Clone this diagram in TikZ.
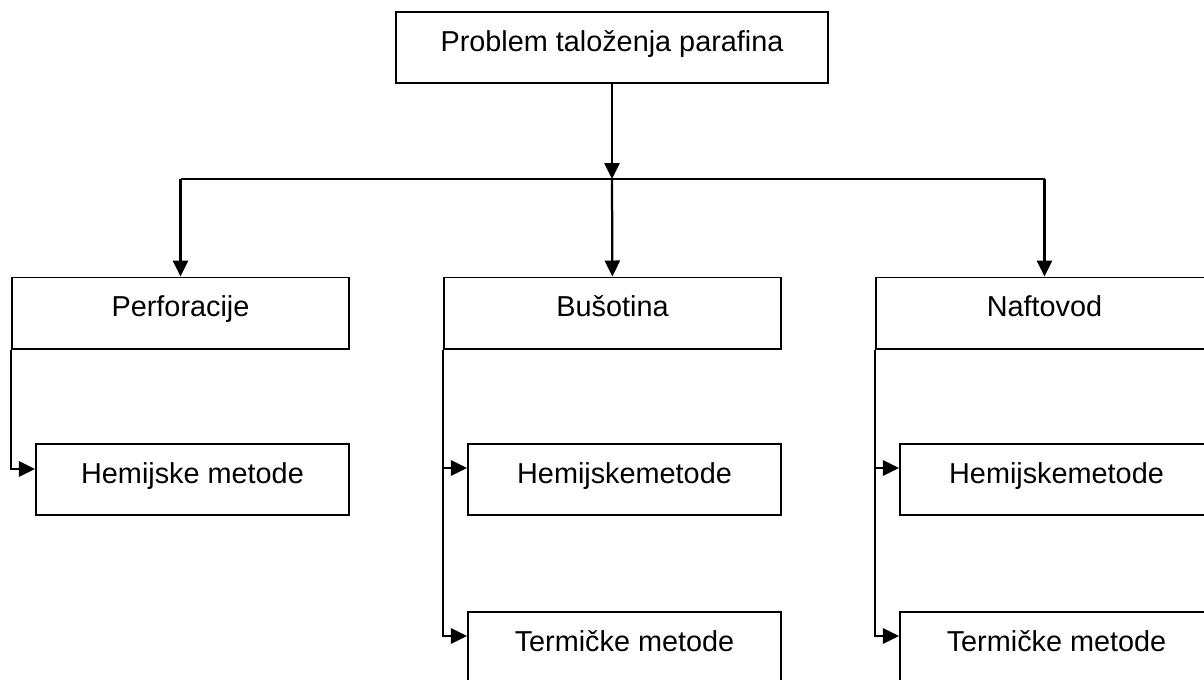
\documentclass[tikz,border=0pt]{standalone}
\usepackage{fontspec}
\setmainfont{Liberation Sans}
\usetikzlibrary{positioning, arrows.meta}
\tikzset{box/.style={draw,line width=1.4pt,inner sep=0pt,text height=0.975cm,text depth=0.8cm,
                     font=\fontsize{20.5}{24}\selectfont},
         topbox/.style={box,minimum width=10.8cm},
         placebox/.style={box,minimum width=8.425cm},
         methodbox/.style={box,minimum width=7.825cm},
         conn/.style={line width=1.6pt},
         arr/.style={conn,-{Triangle[length=0.4cm,width=0.38cm]}},
        }

\begin{document}
\begin{tikzpicture}[x=0.025cm,y=-0.025cm]
        \useasboundingbox(0,0)rectangle(1204,679);
        \clip(0,0)rectangle(1204,679);

        \node[topbox](prob)at(612,47.5){Problem taloženja parafina};

        \node[placebox](perf)at(180.5,313){Perforacije};
        \node[placebox](bus)at(612.5,313){Bušotina};
        \node[placebox](naft)at(1044.5,313){Naftovod};

        \node[methodbox](perfHem)at(192.5,479.5){Hemijske metode};
        \node[methodbox](busHem)at(624.5,479.5){Hemijskemetode};
        \node[methodbox](busTerm)at(624.5,647.5){Termičke metode};
        \node[methodbox](naftHem)at(1056.5,479.5){Hemijskemetode};
        \node[methodbox](naftTerm)at(1056.5,647.5){Termičke metode};

        \coordinate(hub)at(612,179);
        \draw[arr](prob)--(hub);
        \draw[conn](perf.north|-hub)--(naft.north|-hub);
        \draw[arr](perf.north|-hub)--(perf);
        \draw[arr](hub)--(bus);
        \draw[arr](naft.north|-hub)--(naft);

        \draw[arr](perf.south west)|-([yshift=-0.65cm]perfHem.north west);
        \draw[arr](bus.south west)|-([yshift=-0.625cm]busHem.north west);
        \draw[arr](bus.south west)|-([yshift=-0.625cm]busTerm.north west);
        \draw[arr](naft.south west)|-([yshift=-0.625cm]naftHem.north west);
        \draw[arr](naft.south west)|-([yshift=-0.625cm]naftTerm.north west);
    \end{tikzpicture}
\end{document}
